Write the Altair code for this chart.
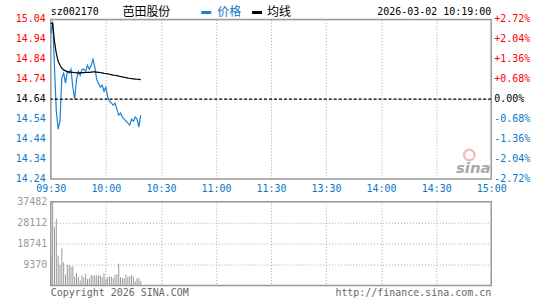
import altair as alt
import pandas as pd

# ---------------- data ----------------
time_ticks = [0, 30, 60, 90, 120, 150, 180, 210, 240]
time_labels = ["09:30", "10:00", "10:30", "11:00", "11:30", "13:30", "14:00", "14:30", "15:00"]
price_ticks = [14.24, 14.34, 14.44, 14.54, 14.64, 14.74, 14.84, 14.94, 15.04]
price_labels = ["14.24", "14.34", "14.44", "14.54", "14.64", "14.74", "14.84", "14.94", "15.04"]
pct_labels = ["-2.72%", "-2.04%", "-1.36%", "-0.68%", "0.00%", "+0.68%", "+1.36%", "+2.04%", "+2.72%"]
vol_ticks = [9370, 18741, 28112, 37482]
prev_close = 14.64

prices = [14.97, 15.03, 14.80, 14.58, 14.49, 14.53, 14.75, 14.77, 14.72, 14.78,
          14.77, 14.79, 14.70, 14.64, 14.74, 14.78, 14.76, 14.79, 14.79, 14.78,
          14.81, 14.79, 14.81, 14.84, 14.80, 14.74, 14.72, 14.70, 14.71, 14.68,
          14.70, 14.65, 14.63, 14.62, 14.61, 14.62, 14.59, 14.56, 14.57, 14.55,
          14.54, 14.53, 14.52, 14.51, 14.54, 14.53, 14.55, 14.54, 14.50, 14.56]
avg_prices = [15.02, 15.02, 14.93, 14.87, 14.83, 14.81, 14.795, 14.787, 14.782, 14.778,
              14.777, 14.776, 14.775, 14.773, 14.772, 14.772, 14.772, 14.773, 14.773, 14.774,
              14.775, 14.775, 14.776, 14.777, 14.777, 14.776, 14.775, 14.773, 14.772, 14.770,
              14.769, 14.767, 14.765, 14.763, 14.761, 14.760, 14.758, 14.756, 14.754, 14.752,
              14.750, 14.748, 14.746, 14.745, 14.743, 14.742, 14.741, 14.740, 14.739, 14.738]
volumes = [12600, 37482, 26300, 29900, 13400, 9200, 16600, 10400, 4900, 9200,
           9200, 8500, 8500, 4100, 5600, 3900, 2200, 4500, 3600, 5200,
           2900, 3300, 4700, 4500, 4500, 4600, 4500, 4500, 3800, 5500,
           2900, 3800, 4000, 4000, 3300, 4700, 5000, 9800, 3800, 3300,
           3300, 4800, 3800, 4200, 4700, 3800, 1900, 3300, 3100, 2000]
minutes = list(range(len(prices)))

code = "sz002170"
name = "芭田股份"
stamp = "2026-03-02 10:19:00"
legend_price = "价格"
legend_avg = "均线"
footer_left = "Copyright 2026 SINA.COM"
footer_right = "http://finance.sina.com.cn"

price_df = pd.DataFrame({"minute": minutes, "price": prices, "avg": avg_prices})
vol_df = pd.DataFrame({"minute": minutes, "vol": volumes})
tick_df = pd.DataFrame({
    "tick": price_ticks, "label": price_labels, "pct": pct_labels,
    "side": ["up" if t > prev_close + 0.005 else ("down" if t < prev_close - 0.005 else "flat")
             for t in price_ticks],
})

# ---------------- style ----------------
MONO = "DejaVu Sans Mono"
CJK = "Noto Sans CJK SC"
BLUE = "#0a78c8"
LINE_BLUE = "#1c80d0"
RED = "#ff0000"
GRID = "#aaaaaa"
W, H_PRICE, H_VOL = 442, 160, 84

one = alt.Data(values=[{}])

x_scale = alt.Scale(domain=[0, 240], nice=False, zero=False)
y_scale = alt.Scale(domain=[14.24, 15.04], nice=False, zero=False)
side_color = alt.Color("side:N", legend=None,
                       scale=alt.Scale(domain=["up", "flat", "down"], range=[RED, "#000000", BLUE]))


def js_array(items):
    return "[" + ",".join("'%s'" % t for t in items) + "]"


x_price = alt.X(
    "minute:Q", scale=x_scale, title=None,
    axis=alt.Axis(values=time_ticks, labelExpr=js_array(time_labels) + "[round(datum.value/30)]",
                  grid=True, gridDash=[1, 2], gridColor=GRID, ticks=False, domain=False,
                  labelColor=BLUE, labelFont=MONO, labelFontSize=10, labelPadding=10,
                  labelBaseline="middle", labelFlush=False, labelOverlap=False),
)

grid_axis = alt.Axis(values=price_ticks, grid=True, gridDash=[1, 2], gridColor=GRID,
                     labels=False, ticks=False, domain=False)

base = alt.Chart(price_df)

price_line = base.mark_line(color=LINE_BLUE, strokeWidth=1.2).encode(
    x=x_price, y=alt.Y("price:Q", scale=y_scale, axis=grid_axis, title=None))
avg_line = base.mark_line(color="#000000", strokeWidth=1.2).encode(
    x=x_price, y=alt.Y("avg:Q", scale=y_scale, title=None))
close_rule = alt.Chart(alt.Data(values=[{"p": prev_close}])).mark_rule(
    color="#000000", strokeDash=[3, 2], strokeWidth=1.2).encode(
    y=alt.Y("p:Q", scale=y_scale, title=None))

tick_base = alt.Chart(tick_df)
left_labels = tick_base.mark_text(align="right", baseline="middle", font=MONO, fontSize=10).encode(
    x=alt.value(-5), y=alt.Y("tick:Q", scale=y_scale, title=None), text="label:N", color=side_color)
right_labels = tick_base.mark_text(align="left", baseline="middle", font=MONO, fontSize=10).encode(
    x=alt.value(W + 3), y=alt.Y("tick:Q", scale=y_scale, title=None), text="pct:N", color=side_color)

# anchor that fixes the page box (545 x 300)
anchor = alt.Chart(one).mark_rule(opacity=0, strokeWidth=0.01).encode(
    x=alt.value(-50), x2=alt.value(495), y=alt.value(-18), y2=alt.value(282))


def txt(s, x, y, align="left", color="#000000", font=MONO, size=10, **kw):
    return alt.Chart(one).mark_text(text=s, align=align, baseline="middle", color=color,
                                    font=font, fontSize=size, **kw).encode(
        x=alt.value(x), y=alt.value(y))


header = [
    txt(code, 0, -7),
    txt(name, 72, -7, font=CJK, size=12),
    alt.Chart(one).mark_rule(color=LINE_BLUE, strokeWidth=3).encode(
        x=alt.value(151), x2=alt.value(161), y=alt.value(-7)),
    txt(legend_price, 167, -7, color=BLUE, font=CJK, size=12),
    alt.Chart(one).mark_rule(color="#000000", strokeWidth=3).encode(
        x=alt.value(202), x2=alt.value(212), y=alt.value(-7)),
    txt(legend_avg, 217, -7, font=CJK, size=12),
    txt(stamp, 442, -7, align="right"),
    alt.Chart(one).mark_point(shape="circle", filled=False, color="#f2a0a0",
                              strokeWidth=2.5, size=110).encode(
        x=alt.value(420), y=alt.value(136)),
    txt("sina", 424, 149, align="center", color="#a8a8a8", font="DejaVu Sans",
        size=15, fontStyle="italic", fontWeight="bold"),
]

price_chart = alt.layer(anchor, price_line, avg_line, close_rule, left_labels, right_labels,
                        *header).properties(width=W, height=H_PRICE)

x_vol = alt.X(
    "minute:Q", scale=x_scale, title=None,
    axis=alt.Axis(values=[30, 60, 90, 120, 150, 180, 210], labels=False, ticks=False,
                  domain=False, grid=True, gridDash=[1, 2], gridColor=GRID))
vol_axis = alt.Axis(values=vol_ticks, format="d", grid=True, gridDash=[1, 2], gridColor=GRID,
                    ticks=False, domain=False, labelFont=MONO, labelFontSize=10,
                    labelColor="#999999", labelPadding=4, labelBaseline="middle",
                    labelOverlap=False, labelFlush=False)

vol_bars = alt.Chart(vol_df).mark_rule(color="#999999", strokeWidth=1).encode(
    x=x_vol,
    y=alt.Y("vol:Q", scale=alt.Scale(domain=[0, 37482], nice=False), axis=vol_axis, title=None),
    y2=alt.datum(0))

footer = [
    txt(footer_left, 0, 92, color="#666666"),
    txt(footer_right, 442, 92, align="right", color="#666666"),
]

vol_chart = alt.layer(vol_bars, *footer).properties(width=W, height=H_VOL)

chart = alt.vconcat(price_chart, vol_chart, spacing=23, bounds="flush").properties(
    padding=0, background="#ffffff").configure_view(stroke="#999999", strokeWidth=1.5)

chart.save("out.html", embed_options={"renderer": "svg", "actions": False})
